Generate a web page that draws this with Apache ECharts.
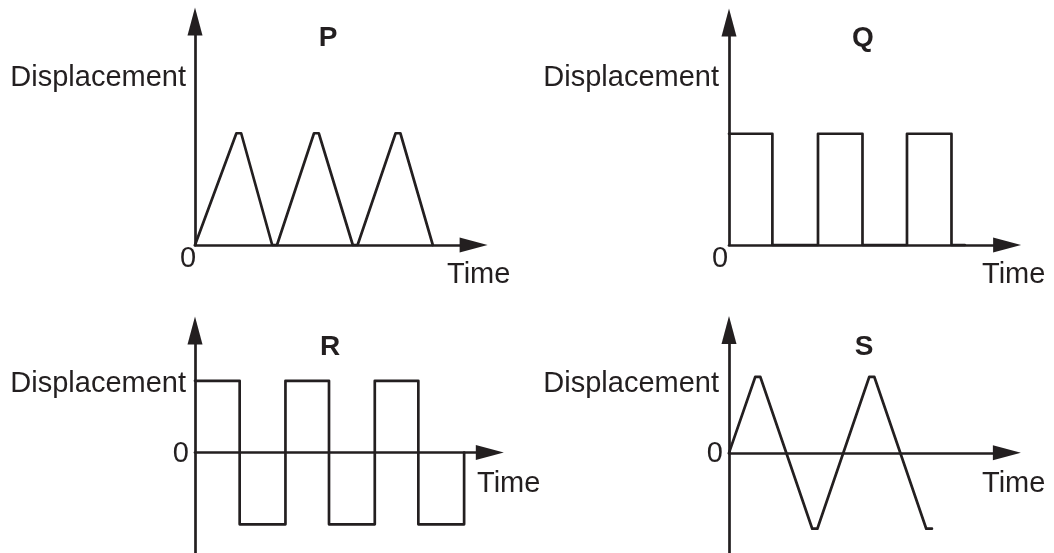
<!DOCTYPE html>
<html>
<head>
<meta charset="utf-8">
<script src="https://cdn.jsdelivr.net/npm/echarts@6/dist/echarts.min.js"></script>
<style>html,body{margin:0;padding:0;background:#fff;}#c{width:1054px;height:553px;}</style>
</head>
<body>
<div id="c"></div>
<script>
// ---- data ----
const pTime = [0, 2.08, 2.32, 3.88, 4.12, 5.98, 6.22, 7.93, 8.17, 10.08, 10.32, 11.95];
const pDisp = [0, 1, 1, 0, 0, 1, 1, 0, 0, 1, 1, 0];
const qTime = [0, 1.95, 1.95, 4, 4, 6, 6, 8, 8, 10, 10, 10.6];
const qDisp = [1, 1, 0, 0, 1, 1, 0, 0, 1, 1, 0, 0];
const rTime = [0, 2, 2, 4.05, 4.05, 6, 6, 8.05, 8.05, 10, 10, 12.05, 12.05];
const rDisp = [1, 1, -1, -1, 1, 1, -1, -1, 1, 1, -1, -1, 0];
const sTime = [0, 0.92, 1.1, 2.92, 3.1, 4.92, 5.1, 6.92, 7.12];
const sDisp = [0, 1, 1, -1, -1, 1, 1, -1, -1];
const panelTitles = ['P', 'Q', 'R', 'S'];
const yTitle = 'Displacement';
const xTitle = 'Time';
const zeroLabel = '0';

const INK = '#231f20';
const FONT = '"Liberation Sans", Arial, Helvetica, sans-serif';

const pair = (xs, ys) => xs.map((x, i) => [x, ys[i]]);

const grids = [
  {left: 195, top: 21.5, width: 278.6, height: 223.5},
  {left: 729, top: 22.5, width: 278.1, height: 222.5},
  {left: 195, top: 330.6, width: 294.8, height: 223.2},
  {left: 729, top: 329.9, width: 277.9, height: 223.4}
];
const xRanges = [[0, 14], [0, 12.5], [0, 13.2], [0, 9.75]];
const yRanges = [[0, 2], [0, 2], [-1.4, 1.7], [-1.32, 1.62]];

function axis(i, rng) {
  return {
    type: 'value', gridIndex: i, min: rng[0], max: rng[1],
    axisLine: {show: true, onZero: true, symbol: ['none', 'triangle'],
      symbolSize: [15, 28], lineStyle: {color: INK, width: 2.7}},
    axisTick: {show: false}, axisLabel: {show: false}, splitLine: {show: false}
  };
}

const seriesData = [pair(pTime, pDisp), pair(qTime, qDisp), pair(rTime, rDisp), pair(sTime, sDisp)];

function txt(x, y, text, align, bold) {
  return {type: 'text', x: x, y: y, silent: true,
    style: {text: text, fill: INK, font: (bold ? 'bold 28px ' : '29px ') + FONT,
      align: align, verticalAlign: 'middle', textAlign: align, textVerticalAlign: 'middle'}};
}

const graphics = [
  txt(328, 38, panelTitles[0], 'center', true),
  txt(863, 38, panelTitles[1], 'center', true),
  txt(330, 347, panelTitles[2], 'center', true),
  txt(864, 347, panelTitles[3], 'center', true),
  txt(186, 77.5, yTitle, 'right'),
  txt(719, 77.5, yTitle, 'right'),
  txt(186, 383.5, yTitle, 'right'),
  txt(719, 383.5, yTitle, 'right'),
  txt(188, 259, zeroLabel, 'center'),
  txt(720, 259, zeroLabel, 'center'),
  txt(189, 454, zeroLabel, 'right'),
  txt(723, 454, zeroLabel, 'right'),
  txt(447, 274.5, xTitle, 'left'),
  txt(982, 274.5, xTitle, 'left'),
  txt(477, 483.5, xTitle, 'left'),
  txt(982, 483.5, xTitle, 'left')
];

const chart = echarts.init(document.getElementById('c'), null, {renderer: 'canvas'});
chart.setOption({
  animation: false,
  backgroundColor: '#fff',
  grid: grids,
  xAxis: xRanges.map((r, i) => axis(i, r)),
  yAxis: yRanges.map((r, i) => axis(i, r)),
  series: seriesData.map((d, i) => ({
    type: 'line', xAxisIndex: i, yAxisIndex: i, data: d, symbol: 'none', clip: false,
    lineStyle: {color: INK, width: 2.7, join: 'round', cap: 'round'}, z: 3
  })),
  graphic: graphics
});
</script>
</body>
</html>
